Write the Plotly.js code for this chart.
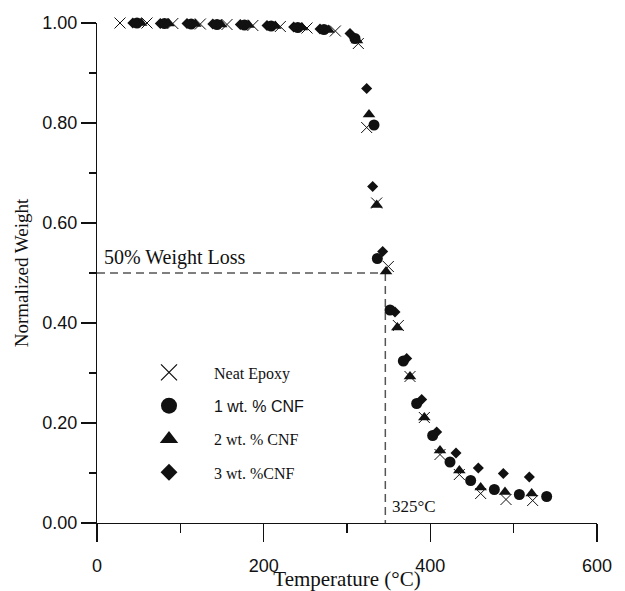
<!DOCTYPE html>
<html>
<head>
<meta charset="utf-8">
<script src="https://cdn.plot.ly/plotly-3.0.1.min.js"></script>
<style>html,body{margin:0;padding:0;background:#fff;}#chart{width:625px;height:591px;}</style>
</head>
<body>
<div id="chart"></div>
<script>
// Temperature (°C) and normalized weight
const neatT = [27.6, 60, 91, 124, 156, 187, 220, 252, 286, 313.6, 323.6, 335.6, 349.6, 361.6, 375.6, 392.8, 411.6, 434.8, 460.4, 490.8, 522.8];
const neatW = [1.0, 1.0, 0.999, 0.998, 0.997, 0.995, 0.993, 0.99, 0.984, 0.959, 0.791, 0.64, 0.513, 0.395, 0.293, 0.211, 0.137, 0.097, 0.059, 0.047, 0.045];

const cnf1T = [48, 81, 113, 144, 177, 209, 241, 272.4, 309.6, 332.4, 336.4, 351.6, 367.6, 383.6, 402.8, 423.6, 448.4, 476.8, 506.8, 539.6];
const cnf1W = [1.0, 0.999, 0.998, 0.997, 0.996, 0.994, 0.991, 0.987, 0.969, 0.796, 0.529, 0.426, 0.324, 0.239, 0.175, 0.122, 0.085, 0.067, 0.057, 0.053];

const cnf2T = [53, 86, 118, 149, 182, 214, 246, 278, 312, 326.4, 335.6, 346.8, 360.4, 375.6, 392.8, 411.6, 434.8, 460.4, 489.6, 521.6];
const cnf2W = [1.0, 0.999, 0.998, 0.997, 0.996, 0.994, 0.991, 0.986, 0.965, 0.817, 0.636, 0.503, 0.391, 0.293, 0.211, 0.145, 0.105, 0.071, 0.062, 0.059];

const cnf3T = [43, 76, 108, 139, 172, 204, 236, 267.6, 303.6, 323.6, 330.8, 342.8, 357.6, 371.6, 389.6, 407.6, 430.8, 457.6, 487.6, 518.8];
const cnf3W = [1.0, 0.999, 0.999, 0.998, 0.997, 0.995, 0.992, 0.988, 0.979, 0.869, 0.673, 0.543, 0.422, 0.329, 0.247, 0.182, 0.14, 0.11, 0.099, 0.092];

const seriesNames = ['Neat Epoxy', '<span style="font-family:Liberation Sans">1 wt. % CNF</span>', '2 wt. % CNF', '3 wt. %CNF'];
const seriesSymbols = ['x-thin-open', 'circle', 'triangle-up', 'diamond'];

// reference guide: 50% weight loss
const halfLossW = 0.5;
const halfLossT = 346;

const xTicks = [0, 200, 400, 600];
const yTicks = [0, 0.2, 0.4, 0.6, 0.8, 1.0];

const ink = '#111';
const serif = 'Liberation Serif, Times New Roman, serif';
const sans = 'Liberation Sans, Arial, sans-serif';

function pts(x, y, sym, size, extra) {
  const m = {symbol: sym, size: size, color: ink};
  if (sym === 'x-thin-open') m.line = {color: ink, width: 1};
  return Object.assign({x: x, y: y, mode: 'markers', cliponaxis: false, showlegend: false, marker: m}, extra || {});
}

const traces = [
  pts(cnf3T, cnf3W, seriesSymbols[3], 8.5),
  pts(cnf1T, cnf1W, seriesSymbols[1], 11),
  pts(cnf2T, cnf2W, seriesSymbols[2], 11),
  pts(neatT, neatW, seriesSymbols[0], 11)
];
// legend entries (no points drawn), larger symbols as in the reference key
seriesNames.forEach((nm, i) => {
  const sz = [16, 16, 16, 13][i];
  const t = pts([null], [null], seriesSymbols[i], sz, {name: nm, showlegend: true, legendgroup: 'g' + i, legendrank: i + 1});
  if (i === 0) t.marker.line.width = 1.3;
  traces.push(t);
});

const layout = {
  width: 625, height: 591,
  margin: {l: 97, r: 28, t: 23, b: 68},
  paper_bgcolor: '#fff', plot_bgcolor: '#fff',
  showlegend: true,
  legend: {
    x: 0.054, y: 0.335, xanchor: 'left', yanchor: 'top',
    traceorder: 'grouped', tracegroupgap: 9.5, itemwidth: 80,
    font: {family: serif, size: 16, color: ink},
    bgcolor: 'rgba(0,0,0,0)', borderwidth: 0
  },
  xaxis: {
    range: [0, 600], tickvals: xTicks, ticktext: xTicks.map(String),
    showgrid: false, zeroline: false, showline: true, linecolor: ink, linewidth: 1.2,
    ticks: 'outside', ticklen: 18, tickwidth: 1.2, tickcolor: ink,
    minor: {dtick: 100, tick0: 0, ticks: 'outside', ticklen: 9, tickwidth: 1.2, tickcolor: ink, showgrid: false},
    tickfont: {family: sans, size: 18, color: ink},
    ticklabelstandoff: 8,
    title: {text: 'Temperature (°C)', font: {family: serif, size: 21, color: ink}, standoff: 9}
  },
  yaxis: {
    range: [0, 1.0], tickvals: yTicks, ticktext: yTicks.map(v => v.toFixed(2)),
    showgrid: false, zeroline: false, showline: true, linecolor: ink, linewidth: 1.2,
    ticks: 'outside', ticklen: 15, tickwidth: 1.2, tickcolor: ink,
    minor: {dtick: 0.1, tick0: 0, ticks: 'outside', ticklen: 7, tickwidth: 1.2, tickcolor: ink, showgrid: false},
    tickfont: {family: sans, size: 18, color: ink},
    title: {text: 'Normalized Weight', font: {family: serif, size: 19, color: ink}, standoff: 8}
  },
  shapes: [
    {type: 'line', xref: 'x', yref: 'y', x0: 0, x1: halfLossT, y0: halfLossW, y1: halfLossW,
     line: {color: '#555', width: 1.5, dash: '8px,5px'}, layer: 'below'},
    {type: 'line', xref: 'x', yref: 'y', x0: halfLossT, x1: halfLossT, y0: halfLossW, y1: 0,
     line: {color: '#555', width: 1.5, dash: '8px,5px'}, layer: 'below'}
  ],
  annotations: [
    {xref: 'x', yref: 'y', x: 6, y: halfLossW, xanchor: 'left', yanchor: 'bottom', yshift: 2,
     text: '50% Weight Loss', showarrow: false, font: {family: serif, size: 20, color: ink}},
    {xref: 'x', yref: 'y', x: halfLossT + 6, y: 0, xanchor: 'left', yanchor: 'bottom', yshift: 5,
     text: '325°C', showarrow: false, font: {family: serif, size: 17, color: ink}}
  ]
};

Plotly.newPlot('chart', traces, layout, {displayModeBar: false, staticPlot: true});
</script>
</body>
</html>
